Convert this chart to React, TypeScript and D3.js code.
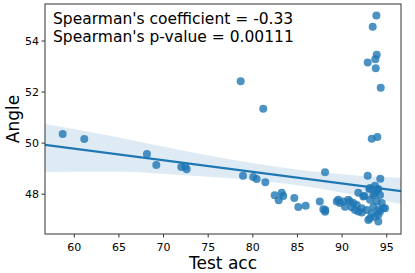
import React from "react";
import * as d3 from "d3";

// test accuracy (x) and angle (y)
const testAcc = [
  58.7, 61.12, 68.14, 69.19, 71.99, 72.43, 72.59, 78.64, 81.17, 78.9, 80.05, 80.43, 81.4,
  82.45, 83.24, 83.41, 82.9, 84.65, 85.1, 85.92, 87.5, 88.09, 88.12, 88.1, 87.9,
  93.84, 93.43, 93.88, 93.72, 92.87, 93.77, 94.33, 93.32, 93.95,
  92.87, 94.28, 91.82, 92.49, 93.13, 93.69, 94.06, 93.5, 94.25, 93.13, 93.88, 94.44, 93.5,
  94.06, 94.62, 93.32, 92.76, 92.2, 91.64, 91.26, 90.89, 90.7, 90.14, 89.58, 89.4, 89.77,
  90.33, 91.82, 92.94, 94.06, 93.69, 93.13, 91.07, 91.45, 92.2, 94.81, 94.25, 94.06,
  93.69, 93.95, 93.05, 92.38,
];
const angle = [
  50.36, 50.16, 49.57, 49.14, 49.06, 49.08, 48.98, 52.42, 51.35, 48.72, 48.67, 48.59, 48.47,
  47.96, 48.06, 47.93, 47.76, 47.85, 47.5, 47.55, 47.71, 48.86, 47.38, 47.31, 47.41,
  55.0, 54.56, 53.46, 53.29, 53.16, 52.93, 52.17, 50.17, 50.24,
  48.72, 48.6, 48.06, 47.93, 48.24, 48.33, 48.2, 47.97, 47.97, 47.78, 47.71, 47.65, 47.51,
  47.38, 47.45, 47.25, 47.38, 47.45, 47.58, 47.65, 47.71, 47.78, 47.71, 47.78, 47.71, 47.65,
  47.51, 47.32, 46.99, 46.93, 47.12, 47.06, 47.49, 47.38, 47.28, 47.45, 47.32, 47.19,
  48.04, 48.17, 48.2, 47.91,
];

// regression line and its confidence band
const fitX = [56.72, 96.6];
const fitY = [49.93, 48.12];
const bandX = [56.72, 65, 72, 79, 86, 92, 96.6];
const bandHi = [50.75, 50.22, 49.72, 49.27, 48.92, 48.72, 48.64];
const bandLo = [48.87, 48.88, 48.75, 48.58, 48.3, 47.93, 47.62];

const xTicks = [60, 65, 70, 75, 80, 85, 90, 95];
const yTicks = [48, 50, 52, 54];
const xLimits = [56.72, 96.6];
const yLimits = [46.44, 55.45];
const statLines = ["Spearman's coefficient = -0.33", "Spearman's p-value = 0.00111"];

const W = 415, H = 273;
const margin = { top: 4, right: 14, bottom: 39, left: 45 };
const blue = "#1f77b4";
const font = "DejaVu Sans, sans-serif";

export default function App() {
  const x = d3.scaleLinear().domain(xLimits).range([margin.left, W - margin.right]);
  const y = d3.scaleLinear().domain(yLimits).range([H - margin.bottom, margin.top]);

  const area = d3.area<number>()
    .x((d) => x(d))
    .y0((_, i) => y(bandLo[i]))
    .y1((_, i) => y(bandHi[i]))
    .curve(d3.curveMonotoneX);
  const line = d3.line<number>().x((d) => x(d)).y((_, i) => y(fitY[i]));

  const x0 = margin.left, x1 = W - margin.right, y0 = margin.top, y1 = H - margin.bottom;

  return (
    <svg width={W} height={H} style={{ position: "absolute", left: 0, top: 0, background: "#fff" }} fontFamily={font}>
      <defs>
        <clipPath id="plot"><rect x={x0} y={y0} width={x1 - x0} height={y1 - y0} /></clipPath>
      </defs>
      <g clipPath="url(#plot)">
        <path d={area(bandX)!} fill={blue} fillOpacity={0.15} />
        {testAcc.map((v, i) => (
          <circle key={i} cx={x(v)} cy={y(angle[i])} r={4} fill={blue} fillOpacity={0.8} />
        ))}
        <path d={line(fitX)!} fill="none" stroke={blue} strokeWidth={2.2} />
      </g>
      <rect x={x0} y={y0} width={x1 - x0} height={y1 - y0} fill="none" stroke="#333" strokeWidth={1} />
      {xTicks.map((t) => (
        <g key={t}>
          <line x1={x(t)} x2={x(t)} y1={y1} y2={y1 + 3.5} stroke="#333" />
          <text x={x(t)} y={y1 + 17} textAnchor="middle" fontSize={11}>{t}</text>
        </g>
      ))}
      {yTicks.map((t) => (
        <g key={t}>
          <line x1={x0} x2={x0 - 3.5} y1={y(t)} y2={y(t)} stroke="#333" />
          <text x={x0 - 6} y={y(t) + 4} textAnchor="end" fontSize={11}>{t}</text>
        </g>
      ))}
      <text x={(x0 + x1) / 2} y={H - 4} textAnchor="middle" fontSize={17}>Test acc</text>
      <text transform={`translate(19,${(y0 + y1) / 2}) rotate(-90)`} textAnchor="middle" fontSize={17}>Angle</text>
      {statLines.map((l, i) => (
        <text key={i} x={x0 + 8} y={24 + i * 18} fontSize={15.5}>{l}</text>
      ))}
    </svg>
  );
}
